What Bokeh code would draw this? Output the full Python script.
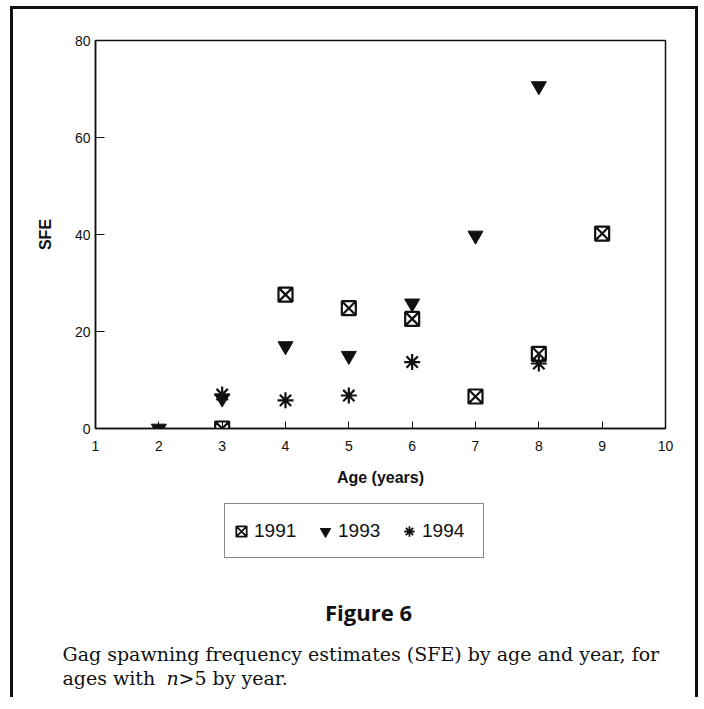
import numpy as np
from bokeh.plotting import figure
from bokeh.models import Legend, LegendItem, FixedTicker
from bokeh.core.properties import value
from bokeh.embed import file_html
from bokeh.resources import INLINE

# ---- data ----
age_1991 = [3, 4, 5, 6, 7, 8, 9]
sfe_1991 = [0.0, 27.6, 24.8, 22.6, 6.6, 15.4, 40.2]

age_1993 = [2, 3, 4, 5, 6, 7, 8]
sfe_1993 = [0.0, 6.2, 17.0, 15.0, 25.8, 39.8, 70.6]

age_1994 = [3, 4, 5, 6, 8]
sfe_1994 = [7.0, 5.8, 6.8, 13.7, 13.4]

x_ticks = [1, 2, 3, 4, 5, 6, 7, 8, 9, 10]
y_ticks = [0, 20, 40, 60, 80]
series_names = ["1991", "1993", "1994"]

fig_title = "Figure 6"
caption_1 = "Gag spawning frequency estimates (SFE) by age and year, for"
caption_2a = "ages with"
caption_2b = "n"
caption_2c = ">5 by year."

SANS = "Liberation Sans"
SERIF = "DejaVu Serif"
INK = "#111"

W = 688
H_TOP = 490
H_CAP = 201

# ---- scatter panel ----
p = figure(width=W, height=H_TOP, x_range=(1, 10), y_range=(0, 80),
           output_backend="svg", toolbar_location=None,
           min_border_left=82, min_border_right=36, min_border_top=31,
           min_border_bottom=71,
           background_fill_color="white", border_fill_color="white",
           styles={"border-left": "3px solid #111", "border-top": "3px solid #111",
                   "border-right": "3px solid #111",
                   "margin-left": "10px", "margin-top": "6px"})

p.xgrid.visible = False
p.ygrid.visible = False
p.outline_line_color = INK
p.outline_line_width = 1.5

for ax in (p.xaxis[0], p.yaxis[0]):
    ax.axis_line_color = INK
    ax.axis_line_width = 1.5
    ax.major_tick_line_color = INK
    ax.major_tick_line_width = 1
    ax.major_tick_out = 0
    ax.minor_tick_line_color = None
    ax.major_label_text_font = SANS
    ax.major_label_text_font_size = "14px"
    ax.major_label_text_color = INK
    ax.axis_label_text_font = SANS
    ax.axis_label_text_font_style = "bold"
    ax.axis_label_text_color = INK

p.xaxis.ticker = FixedTicker(ticks=x_ticks)
p.yaxis.ticker = FixedTicker(ticks=y_ticks)
p.xaxis.major_tick_in = 7
p.yaxis.major_tick_in = 9
p.xaxis.major_label_standoff = 12
p.yaxis.major_label_standoff = 5
p.xaxis.axis_label = "Age (years)"
p.yaxis.axis_label = "SFE"
p.xaxis.axis_label_text_font_size = "16px"
p.yaxis.axis_label_text_font_size = "16px"
p.xaxis.axis_label_standoff = 15
p.yaxis.axis_label_standoff = 18

marker_styles = [
    dict(marker="square_x", size=14, fill_color="white", line_color=INK, line_width=2.2),
    dict(marker="inverted_triangle", size=15, fill_color=INK, line_color=INK, line_width=1),
    dict(marker="asterisk", size=16, line_color=INK, line_width=2.2),
]

p.scatter(age_1991, sfe_1991, **marker_styles[0])
p.scatter(age_1993, sfe_1993, **marker_styles[1])
p.scatter(age_1994, sfe_1994, **marker_styles[2])

# ---- legend + caption panel ----
c = figure(width=W, height=H_CAP, x_range=(0, W), y_range=(H_CAP, 0),
           output_backend="svg", toolbar_location=None,
           x_axis_type=None, y_axis_type=None,
           min_border=0, min_border_left=0, min_border_right=0,
           min_border_top=0, min_border_bottom=0,
           outline_line_color=None,
           background_fill_color="white", border_fill_color="white",
           styles={"border-left": "3px solid #111", "border-right": "3px solid #111",
                   "margin-left": "10px"})
c.xgrid.visible = False
c.ygrid.visible = False

# legend keys (same marker styles as the data series; NaN placeholders draw nothing)
nan = np.array([np.nan])
key_styles = [dict(ms, line_width=1.8) if ms["marker"] != "inverted_triangle" else ms
              for ms in marker_styles]
keys = [c.scatter(x=nan, y=nan, **ms) for ms in key_styles]
legend = Legend(items=[LegendItem(label=n, renderers=[k]) for n, k in zip(series_names, keys)],
                orientation="horizontal", location=(211, 139),
                label_text_font=SANS, label_text_font_size="19px",
                label_text_color=INK, glyph_width=26, glyph_height=30,
                label_standoff=0, spacing=0, padding=3, label_height=47,
                label_width=58, margin=0,
                border_line_color=INK, border_line_width=1.5,
                background_fill_color="white", background_fill_alpha=1)
c.add_layout(legend, "center")

c.text(x=[355], y=[115], text=[fig_title], text_align="center",
       text_baseline="middle", text_font=value("Open Sans"),
       text_font_style="bold", text_font_size="22px", text_color=INK)

cap = dict(text_baseline="alphabetic", text_font=value(SERIF),
           text_font_size="19px", text_color=INK)
c.text(x=[49], y=[157], text=[caption_1], **cap)
c.text(x=[49], y=[181], text=[caption_2a], **cap)
c.text(x=[153], y=[181], text=[caption_2b], text_font_style="italic", **cap)
c.text(x=[165], y=[181], text=[caption_2c], **cap)

open("out.html", "w").write(file_html((p, c), INLINE))
